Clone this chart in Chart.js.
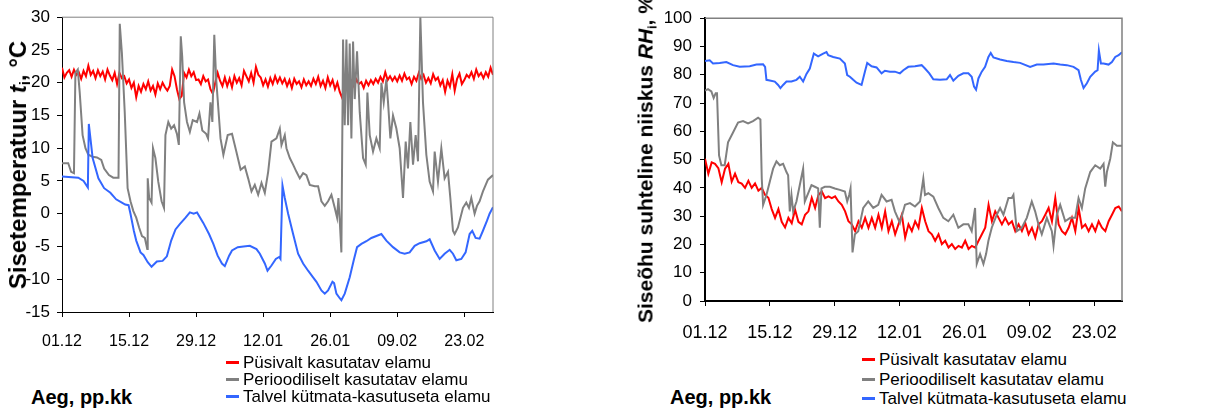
<!DOCTYPE html>
<html><head><meta charset="utf-8">
<script src="https://cdn.jsdelivr.net/npm/chart.js@4/dist/chart.umd.min.js"></script>
<style>
html,body{margin:0;padding:0;background:#fff;}
body{width:1215px;height:412px;overflow:hidden;position:relative;font-family:"Liberation Sans",Arial,sans-serif;color:#000;}
canvas{position:absolute;}
.ytitle{position:absolute;transform:translate(-50%,-50%) rotate(-90deg);white-space:nowrap;font-weight:bold;line-height:1;}
.ytitle sub{font-size:0.6em;line-height:0;position:relative;vertical-align:baseline;top:0.3em;}
.xtitle{position:absolute;font-weight:bold;font-size:20px;line-height:24px;white-space:nowrap;}
.legend{position:absolute;font-size:17px;white-space:nowrap;}
.legend .row{display:flex;align-items:center;}
.legend .mk{display:inline-block;width:13px;height:3px;margin-right:4px;}
</style></head><body>
<canvas id="cT" width="600" height="360" style="left:0;top:0"></canvas>
<canvas id="cH" width="595" height="350" style="left:620px;top:0"></canvas>
<div class="ytitle" style="left:18px;top:165px;font-size:24px">Sisetemperatuur <i>t</i><sub>i</sub>, °C</div>
<div class="ytitle" style="left:645px;top:159px;font-size:21px">Siseõhu suhteline niiskus <i>RH</i><sub>i</sub>, %</div>
<div class="xtitle" style="left:31px;top:385px">Aeg, pp.kk</div>
<div class="xtitle" style="left:670px;top:385px">Aeg, pp.kk</div>
<div class="legend" id="legT" style="left:226px;top:354px;line-height:17px"></div>
<div class="legend" id="legH" style="left:862px;top:350px;line-height:19.5px"></div>
<script>
const tickLabels = ['01.12','15.12','29.12','12.01','26.01','09.02','23.02'];
const seriesNames = ['Püsivalt kasutatav elamu','Perioodiliselt kasutatav elamu','Talvel kütmata-kasutuseta elamu'];
const seriesColors = ['#ff0000','#808080','#3366ff'];

// Left chart: indoor temperature, °C
const tempRedStep = 0.5;
const tempRed = [
22.3,20.8,21.5,21.9,20.9,22.0,21.2,
21.6,20.6,21.8,21.0,22.6,21.2,
21.8,20.7,21.9,21.0,21.7,20.5,22.0,21.1,20.4,21.5,
19.8,21.5,20.7,21.0,19.9,20.5,
19.2,20.0,17.8,19.5,18.6,19.8,19.0,20.2,18.8,19.5,18.2,19.9,19.0,20.0,19.3,18.8,
19.5,22.0,21.0,19.0,17.5,18.0,21.5,20.8,22.0,21.0,21.6,20.4,
20.5,19.8,21.0,20.2,20.5,19.0,18.3,20.0,21.5,20.3,19.5,20.8,
19.5,20.6,19.3,21.0,20.0,20.7,19.6,21.8,21.0,20.2,21.5,20.0,
22.4,21.2,20.8,19.6,20.5,19.4,20.7,19.8,21.0,20.0,20.8,19.9,
20.6,19.5,20.4,19.2,20.6,19.8,20.2,19.3,20.5,19.6,20.2,19.5,
20.6,19.8,20.9,19.5,20.3,19.2,20.8,19.6,20.4,19.0,20.0,18.6,
17.7,19.8,20.6,19.0,20.2,19.4,20.5,19.8,20.1,19.2,20.3,19.6,
20.4,19.8,20.6,20.0,20.9,20.2,21.6,20.4,21.0,20.3,20.9,20.2,
21.1,20.3,21.4,20.5,20.8,19.8,20.9,20.3,21.5,20.6,21.2,20.0,
20.7,19.9,21.3,20.4,20.8,19.6,20.4,18.6,20.3,19.4,21.3,18.8,
20.6,21.4,19.8,20.4,21.2,20.8,21.6,20.6,22.0,21.0,21.5,20.7,
21.6,20.9,22.3,21.2];

const tempGrayDays = [0,1.3,1.9,2.5,2.8,3.3,3.7,4.3,4.9,5.5,6.4,7.3,8.2,8.8,9.8,10.7,11.8,12.06,12.5,13.1,13.7,14.3,14.9,15.5,16.1,16.7,17.3,17.8,17.9,18.2,18.7,19.0,19.5,20.1,20.8,21.3,21.6,22.2,22.8,23.4,24.0,24.4,24.8,25.1,25.5,26.1,26.7,27.3,28.2,28.7,29.3,30.1,30.5,31.0,31.4,31.8,32.2,33.1,33.7,34.6,35.5,36.4,37.3,38.18,38.87,39.57,40.26,40.96,41.66,42.35,43.05,43.74,44.78,45.48,45.83,46.52,46.87,47.57,48.26,48.96,49.65,50.35,51.04,51.74,52.78,53.48,54.17,54.87,55.56,56.26,56.95,57.44,57.72,58.0,58.34,58.69,59.04,59.39,59.74,60.08,60.43,60.78,61.13,61.61,62.17,62.87,63.42,63.77,64.26,64.95,65.65,66.34,66.69,67.18,67.73,68.08,68.57,69.12,69.82,70.51,71.21,71.77,72.25,72.74,73.3,73.85,74.34,74.83,75.38,76.08,76.77,77.47,77.82,78.51,79.21,79.9,80.6,81.09,81.64,81.99,82.68,83.73,84.42,84.98,85.47,86.16,86.65,87.2,87.9,88.94,90.0];
const tempGrayVals = [7.7,7.7,6.4,6.2,21.5,22.0,18.5,12.0,10.0,9.0,8.7,8.6,8.2,6.9,5.9,5.5,5.5,29.0,24.6,15.5,3.9,1.9,0.4,-0.6,-2.1,-3.4,-3.7,-5.4,5.4,2.4,1.7,10.0,8.5,4.9,1.9,0.9,12.0,14.0,13.0,13.5,12.2,10.5,27.1,24.0,17.0,14.0,12.5,14.3,14.0,15.3,12.7,12.2,11.5,17.0,14.0,27.3,20.5,11.5,9.0,12.0,12.2,9.5,6.7,7.2,5.4,3.4,4.4,2.9,4.7,3.2,6.4,11.0,11.5,13.0,10.5,12.0,10.0,8.5,7.5,6.4,5.4,6.2,5.9,4.4,4.2,4.2,1.9,1.2,1.9,2.9,0.9,-0.6,2.4,-1.1,-5.9,26.6,13.5,26.6,13.5,26.0,11.5,26.3,17.5,24.8,15.5,8.5,7.5,18.5,12.0,9.5,11.5,10.0,20.0,17.0,20.5,17.0,11.5,15.0,13.0,10.0,2.4,11.0,6.9,14.0,7.5,12.0,8.0,30.0,17.0,9.0,4.9,3.4,9.5,4.9,10.0,5.4,6.4,2.4,-2.6,-3.1,-2.1,0.9,1.7,0.9,2.4,0.0,1.2,1.9,3.4,5.2,5.9];

const tempBlueDays = [0,3.4,4.5,5.4,5.6,6.4,7.6,8.8,10.1,11.3,12.5,13.2,13.9,14.3,15.0,15.5,16.4,17.0,17.9,18.7,19.8,21.0,21.9,22.8,23.7,24.6,25.8,26.7,27.5,28.2,29.5,30.7,31.6,32.5,33.4,34.0,34.9,35.5,36.7,37.9,39.22,40.61,41.31,42.35,42.91,43.74,44.65,45.34,45.62,46.04,46.52,47.22,48.26,49.3,50.35,51.39,52.43,53.13,54.17,54.87,55.56,56.47,56.82,57.3,58.0,58.34,59.04,60.08,60.92,61.61,62.52,63.56,64.6,65.65,66.69,67.73,69.12,70.51,71.56,72.6,73.64,74.69,76.08,76.77,77.82,78.86,79.9,80.95,81.64,82.34,83.38,84.28,85.12,85.67,86.37,87.2,87.9,88.73,89.29,90.0];
const tempBlueVals = [5.7,5.5,5.0,4.0,13.7,8.5,5.4,3.9,3.2,2.2,1.7,1.4,1.3,0.0,-2.6,-4.1,-5.9,-6.3,-7.4,-8.1,-7.3,-7.2,-6.5,-4.1,-2.4,-1.6,-0.6,0.2,0.0,0.2,-1.4,-3.1,-4.6,-6.4,-7.6,-8.0,-6.4,-5.6,-5.1,-5.0,-4.9,-5.4,-6.1,-7.6,-8.7,-7.9,-6.9,-6.6,-6.9,4.3,2.4,0.0,-3.1,-6.1,-7.6,-8.7,-9.7,-10.4,-11.7,-12.2,-11.7,-10.4,-10.6,-12.2,-12.9,-13.2,-12.2,-9.7,-7.1,-5.1,-4.6,-4.2,-3.7,-3.4,-3.1,-4.1,-5.1,-5.9,-6.1,-5.9,-4.9,-4.5,-4.2,-3.9,-5.6,-6.9,-6.1,-5.5,-6.1,-7.1,-6.9,-5.9,-3.1,-2.6,-3.7,-3.8,-2.6,-1.1,0.0,1.0];

// Right chart: indoor relative humidity, %
const rhRedStep = 0.72;
const rhRed = [50.3,45.0,49.0,48.5,47.0,42.0,46.8,48.5,42.2,45.0,42.0,41.5,40.0,42.5,40.0,41.6,39.0,40.0,37.5,36.5,32.5,29.4,32.5,28.0,26.0,29.4,27.5,32.3,28.0,27.1,30.5,31.7,36.5,32.9,37.5,38.7,36.4,37.0,36.4,37.0,35.2,34.0,31.7,28.2,27.1,24.7,28.2,25.9,29.4,25.9,29.4,25.9,30.5,25.9,31.7,24.7,28.2,23.6,27.1,30.5,22.4,27.1,24.7,28.2,25.9,32.9,28.2,24.7,23.6,21.3,23.6,20.1,21.3,18.9,20.1,18.4,19.5,18.9,21.3,18.4,19.5,18.9,21.3,23.6,25.9,34.0,28.2,31.7,29.4,27.1,29.4,27.1,28.2,24.7,27.1,24.7,27.6,23.6,25.9,22.4,27.1,28.2,30.5,32.9,28.2,36.4,27.1,24.7,23.6,25.9,29.4,24.7,32.9,25.9,27.1,24.7,27.1,24.7,28.2,25.9,24.7,28.2,30.5,32.9,33.4,31.7];

const rhGrayDays = [0,0.65,1.37,1.87,2.31,2.59,3.03,3.53,4.25,4.97,6.05,7.13,8.21,9.29,10.37,11.46,11.96,12.25,12.54,13.26,13.98,14.7,15.42,16.14,16.86,17.58,17.94,18.3,18.66,19.02,19.74,20.46,21.18,21.54,22.26,22.98,23.7,24.42,24.78,25.14,25.86,26.95,28.03,29.11,30.19,30.69,31.12,31.41,31.84,32.35,33.07,34.15,35.23,36.31,37.39,38.11,39.19,40.27,40.99,42.07,43.16,44.24,45.32,46.4,47.12,47.48,48.2,49.28,50.36,51.44,52.52,53.6,54.68,55.76,56.84,57.56,58.29,58.65,59.37,60.09,60.66,61.17,61.89,62.97,63.69,64.41,65.49,66.21,66.57,67.29,68.37,69.45,70.53,71.25,71.97,72.69,73.78,74.86,75.22,75.94,76.66,77.74,78.82,79.9,80.62,81.34,82.06,83.14,84.22,85.3,86.02,86.38,86.74,87.46,88.03,88.9,90.0];
const rhGrayVals = [74.4,74.9,74.1,71.8,73.5,73.5,51.5,48.0,48.0,56.1,59.6,63.1,63.6,62.8,63.6,64.8,64.2,43.3,34.0,37.5,42.2,46.8,49.4,48.0,48.5,45.6,44.5,31.7,37.5,31.7,35.2,41.0,46.8,35.2,38.1,41.0,40.4,39.8,25.9,39.8,40.4,40.4,39.8,39.3,38.7,35.2,37.5,39.8,17.2,23.6,24.7,32.9,35.2,32.9,34.0,37.5,35.2,35.8,31.7,27.6,34.0,34.6,33.4,35.2,43.3,37.5,38.1,36.9,32.9,29.4,28.2,30.5,25.9,27.1,27.1,24.7,32.9,13.1,16.6,13.1,16.6,21.3,25.9,30.5,32.9,30.5,36.4,36.4,37.5,24.7,25.9,29.4,35.2,31.7,27.1,23.6,29.4,24.7,19.5,30.5,34.0,28.2,29.4,29.4,36.4,32.9,39.8,45.6,48.0,46.8,48.5,40.4,45.6,50.3,56.1,54.9,54.9];

const rhBlueDays = [0,1.01,1.73,3.17,4.61,6.05,7.49,9.65,11.1,12.54,12.97,13.26,13.98,15.06,15.78,16.28,16.86,17.58,18.66,19.74,20.46,21.18,21.9,22.62,23.49,24.42,25.5,26.22,26.59,27.67,29.11,30.19,30.69,31.27,31.99,32.71,33.79,34.51,35.01,35.95,37.03,38.11,38.83,39.91,40.99,42.07,42.8,43.88,45.32,46.76,47.48,48.41,49.28,50.72,52.16,52.88,53.6,54.68,55.76,56.84,57.56,58.07,58.5,59.01,59.73,60.45,61.17,61.67,62.25,63.69,65.13,66.57,68.01,70.17,71.61,73.05,75.22,76.66,78.1,79.54,80.62,81.12,81.7,82.42,83.14,84.22,84.73,85.01,85.45,86.02,87.1,87.82,88.54,89.27,90.0];
const rhBlueVals = [84.9,85.1,84.0,84.2,84.5,83.4,82.8,83.0,83.6,83.7,82.8,78.2,78.0,77.6,76.4,75.3,76.4,77.6,77.6,78.2,79.3,77.6,80.3,82.2,87.5,86.5,87.5,88.0,86.9,86.3,85.7,84.0,79.9,79.3,78.2,77.2,76.4,81.1,84.2,83.0,82.6,80.5,81.4,81.1,81.1,80.5,81.6,82.8,83.0,83.4,82.2,80.5,78.4,78.2,78.4,79.9,77.9,79.6,80.5,80.5,79.3,75.8,74.7,78.7,81.1,82.8,86.3,87.7,86.1,85.4,84.9,84.5,84.2,82.8,83.6,83.6,84.0,83.6,83.4,82.8,81.6,78.2,75.3,77.0,79.3,81.1,81.6,88.6,84.0,84.0,83.6,84.5,86.3,86.9,88.0];

function uniformPoints(step, vals){ return vals.map((v,i)=>({x:i*step, y:v})); }
function pairedPoints(days, vals){ return days.map((d,i)=>({x:d, y:vals[i]})); }

Chart.defaults.font.family = "'Liberation Sans', Arial, sans-serif";
Chart.defaults.color = '#000';

const framePlugin = {
  id:'frame',
  afterDraw(chart, args, opts){
    const a = chart.chartArea, ctx = chart.ctx;
    ctx.save();
    ctx.strokeStyle = '#808080';
    ctx.lineWidth = opts.width || 1;
    ctx.beginPath();
    ctx.moveTo(a.left, a.top);
    ctx.lineTo(a.right, a.top);
    ctx.lineTo(a.right, a.bottom);
    ctx.stroke();
    ctx.restore();
  }
};

function makeChart(id, datasets, g){
  return new Chart(document.getElementById(id), {
    type:'line',
    data:{datasets},
    plugins:[framePlugin],
    options:{
      responsive:false, animation:false, devicePixelRatio:1,
      layout:{padding:{left:0, top:g.top, right:g.right, bottom:0}},
      plugins:{legend:{display:false}, tooltip:{enabled:false}, frame:{width:g.frameW}},
      elements:{point:{radius:0}, line:{borderWidth:g.lw, tension:0}},
      scales:{
        x:{type:'linear', min:0, max:90,
           afterFit(s){ s.height = g.xh; },
           border:{display:true, color:'#000', width:g.axisW},
           grid:{display:true, drawOnChartArea:false, drawTicks:true, tickLength:5, color:'#000', lineWidth:1},
           ticks:{stepSize:14, includeBounds:false, autoSkip:false, maxRotation:0, minRotation:0, padding:g.xpad, font:{size:g.xfs},
                  callback:(v)=>tickLabels[Math.round(v/14)]}},
        y:{type:'linear', min:g.ymin, max:g.ymax,
           afterFit(s){ s.width = g.yw; },
           border:{display:true, color:'#000', width:g.axisW},
           grid:{display:true, drawOnChartArea:false, drawTicks:true, tickLength:5, color:'#000', lineWidth:1},
           ticks:{stepSize:g.ystep, padding:g.ypad, font:{size:g.yfs}}}
      }
    }
  });
}

function ds(i, points){
  return {label:seriesNames[i], data:points, borderColor:seriesColors[i], backgroundColor:seriesColors[i], fill:false, order:3-i};
}

makeChart('cT', [
  ds(0, uniformPoints(tempRedStep, tempRed)),
  ds(1, pairedPoints(tempGrayDays, tempGrayVals)),
  ds(2, pairedPoints(tempBlueDays, tempBlueVals))
], {top:14, right:107, xh:48, yw:62, ymin:-15, ymax:30, ystep:5, xpad:15, ypad:7, xfs:16, yfs:17, lw:2, axisW:1, frameW:1});

makeChart('cH', [
  ds(0, uniformPoints(rhRedStep, rhRed)),
  ds(1, pairedPoints(rhGrayDays, rhGrayVals)),
  ds(2, pairedPoints(rhBlueDays, rhBlueVals))
], {top:14, right:93, xh:49, yw:85, ymin:0, ymax:100, ystep:10, xpad:16, ypad:8, xfs:18, yfs:17, lw:2, axisW:2, frameW:1.5});

function buildLegend(id){
  const el = document.getElementById(id);
  seriesNames.forEach((n,i)=>{
    const r = document.createElement('div'); r.className='row';
    const m = document.createElement('span'); m.className='mk'; m.style.background = seriesColors[i];
    const t = document.createElement('span'); t.textContent = n;
    r.appendChild(m); r.appendChild(t); el.appendChild(r);
  });
}
buildLegend('legT');
buildLegend('legH');
</script>
</body></html>
